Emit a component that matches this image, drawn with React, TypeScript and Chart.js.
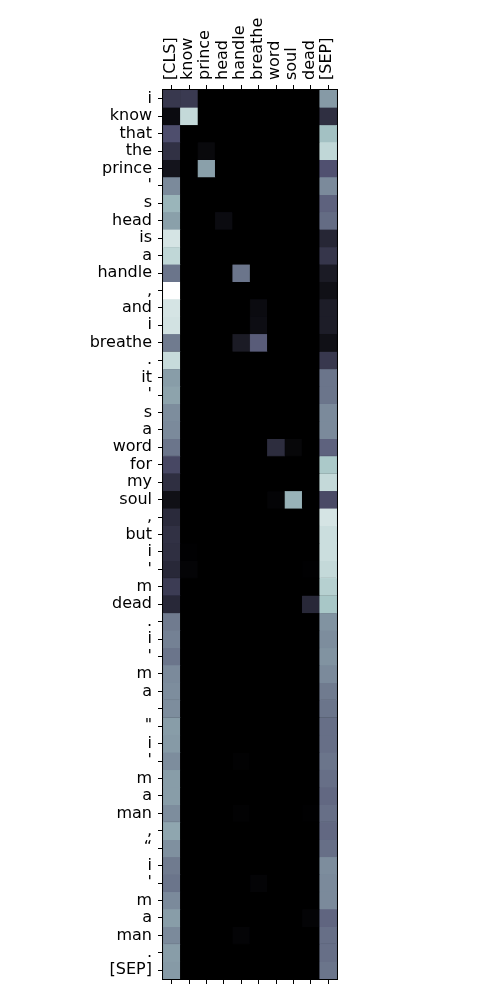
import React, { useEffect, useRef } from "react";
import { Chart, registerables } from "chart.js";

Chart.register(...registerables);

const columns = ["[CLS]", "know", "prince", "head", "handle", "breathe", "word", "soul", "dead", "[SEP]"];

const rows = [
  "i", "know", "that", "the", "prince", "'", "s", "head", "is", "a",
  "handle", ",", "and", "i", "breathe", ".", "it", "'", "s", "a",
  "word", "for", "my", "soul", ",", "but", "i", "'", "m", "dead",
  ".", "i", "'", "m", "a", "", "\"", "i", "'", "m",
  "a", "man", ",", "“", "i", "'", "m", "a", "man", ".",
  "[SEP]",
];

// attention weights per column (one value per row)
const colCLS = [
  0.25, 0.05, 0.35, 0.22, 0.09, 0.55, 0.69, 0.62, 0.88, 0.82,
  0.48, 1.0, 0.88, 0.87, 0.5, 0.84, 0.61, 0.63, 0.56, 0.55,
  0.48, 0.32, 0.21, 0.07, 0.19, 0.22, 0.21, 0.18, 0.27, 0.18,
  0.5, 0.52, 0.48, 0.55, 0.56, 0.56, 0.61, 0.6, 0.56, 0.61,
  0.61, 0.56, 0.64, 0.57, 0.5, 0.48, 0.55, 0.61, 0.55, 0.61,
  0.6,
];
const colKnow = [
  0.26, 0.83, 0, 0, 0, 0, 0, 0, 0, 0,
  0, 0, 0, 0, 0, 0, 0, 0, 0, 0,
  0, 0, 0, 0, 0, 0, 0.005, 0.02, 0, 0,
  0, 0, 0, 0, 0, 0, 0, 0, 0, 0,
  0, 0, 0, 0, 0, 0, 0, 0, 0, 0,
  0,
];
const colPrince = [
  0, 0, 0, 0.04, 0.62, 0, 0, 0, 0, 0,
  0, 0, 0, 0, 0, 0, 0, 0, 0, 0,
  0, 0, 0, 0, 0, 0, 0, 0, 0, 0,
  0, 0, 0, 0, 0, 0, 0, 0, 0, 0,
  0, 0, 0, 0, 0, 0, 0, 0, 0, 0,
  0,
];
const colHead = [
  0, 0, 0, 0, 0, 0, 0, 0.05, 0, 0,
  0, 0, 0, 0, 0, 0, 0, 0, 0, 0,
  0, 0, 0, 0, 0, 0, 0, 0, 0, 0,
  0, 0, 0, 0, 0, 0, 0, 0, 0, 0,
  0, 0, 0, 0, 0, 0, 0, 0, 0, 0,
  0,
];
const colHandle = [
  0, 0, 0, 0, 0, 0, 0, 0, 0, 0,
  0.48, 0, 0, 0, 0.12, 0, 0, 0, 0, 0,
  0, 0, 0, 0, 0, 0, 0, 0, 0, 0,
  0, 0, 0, 0, 0, 0, 0, 0, 0.01, 0,
  0, 0.01, 0, 0, 0, 0, 0, 0, 0.02, 0,
  0,
];
const colBreathe = [
  0, 0, 0, 0, 0, 0, 0, 0, 0, 0,
  0, 0, 0.05, 0.06, 0.4, 0, 0, 0, 0, 0,
  0, 0, 0, 0, 0, 0, 0, 0, 0, 0,
  0, 0, 0, 0, 0, 0, 0, 0, 0, 0,
  0, 0, 0, 0, 0, 0.02, 0, 0, 0, 0,
  0,
];
const colWord = [
  0, 0, 0, 0, 0, 0, 0, 0, 0, 0,
  0, 0, 0, 0, 0, 0, 0, 0, 0, 0,
  0.2, 0, 0, 0.02, 0, 0, 0, 0, 0, 0,
  0, 0, 0, 0, 0, 0, 0, 0, 0, 0,
  0, 0, 0, 0, 0, 0, 0, 0, 0, 0,
  0,
];
const colSoul = [
  0, 0, 0, 0, 0, 0, 0, 0, 0, 0,
  0, 0, 0, 0, 0, 0, 0, 0, 0, 0,
  0.03, 0, 0, 0.68, 0, 0, 0, 0, 0, 0,
  0, 0, 0, 0, 0, 0, 0, 0, 0, 0,
  0, 0, 0, 0, 0, 0, 0, 0, 0, 0,
  0,
];
const colDead = [
  0, 0, 0, 0, 0, 0, 0, 0, 0, 0,
  0, 0, 0, 0, 0, 0, 0, 0, 0, 0,
  0, 0, 0, 0, 0, 0, 0, 0.005, 0, 0.18,
  0, 0, 0, 0, 0, 0, 0, 0, 0, 0,
  0, 0.005, 0, 0, 0, 0, 0, 0.02, 0, 0,
  0,
];
const colSEP = [
  0.6, 0.21, 0.73, 0.82, 0.36, 0.55, 0.42, 0.45, 0.17, 0.24,
  0.12, 0.07, 0.13, 0.13, 0.07, 0.25, 0.48, 0.48, 0.55, 0.55,
  0.42, 0.76, 0.83, 0.33, 0.88, 0.85, 0.85, 0.83, 0.79, 0.75,
  0.58, 0.56, 0.58, 0.55, 0.5, 0.48, 0.46, 0.46, 0.48, 0.46,
  0.44, 0.46, 0.44, 0.46, 0.56, 0.55, 0.55, 0.43, 0.46, 0.46,
  0.48,
];

const matrixColumns = [colCLS, colKnow, colPrince, colHead, colHandle, colBreathe, colWord, colSoul, colDead, colSEP];

function interp(pts: number[][], v: number) {
  for (let i = 1; i < pts.length; i++) {
    if (v <= pts[i][0]) {
      const [x0, y0] = pts[i - 1];
      const [x1, y1] = pts[i];
      return y0 + ((v - x0) / (x1 - x0)) * (y1 - y0);
    }
  }
  return pts[pts.length - 1][1];
}

function bone(v: number) {
  const t = Math.max(0, Math.min(1, v));
  const r = interp([[0, 0], [0.746032, 0.652778], [1, 1]], t);
  const g = interp([[0, 0], [0.365079, 0.319444], [0.746032, 0.777778], [1, 1]], t);
  const b = interp([[0, 0], [0.365079, 0.444444], [1, 1]], t);
  return `rgb(${Math.round(r * 255)},${Math.round(g * 255)},${Math.round(b * 255)})`;
}

const FONT = { family: "DejaVu Sans", size: 16 };

export default function App() {
  const ref = useRef<HTMLCanvasElement | null>(null);

  useEffect(() => {
    document.body.style.margin = "0";
    if (!ref.current) return;

    const datasets = rows.map((_, k) => {
      const colors = columns.map((_, j) => bone(matrixColumns[j][k]));
      return {
        label: rows[k],
        data: columns.map(() => [k, k + 1]),
        backgroundColor: colors,
        borderColor: colors,
        borderWidth: 0.6,
        borderSkipped: false,
        barPercentage: 1,
        categoryPercentage: 1,
        xAxisID: "x",
        yAxisID: "y",
      };
    });

    const framePlugin = {
      id: "frame",
      beforeDatasetsDraw(chart: any) {
        const { ctx, chartArea } = chart;
        ctx.save();
        ctx.fillStyle = "#000";
        ctx.fillRect(chartArea.left, chartArea.top, chartArea.right - chartArea.left, chartArea.bottom - chartArea.top);
        ctx.restore();
      },
      afterDraw(chart: any) {
        const { ctx, chartArea } = chart;
        ctx.save();
        ctx.strokeStyle = "#000";
        ctx.lineWidth = 1;
        ctx.strokeRect(
          Math.round(chartArea.left) - 0.5,
          Math.round(chartArea.top) - 0.5,
          Math.round(chartArea.right - chartArea.left) + 1,
          Math.round(chartArea.bottom - chartArea.top) + 1
        );
        ctx.restore();
      },
    };

    const chart = new Chart(ref.current, {
      type: "bar",
      data: { labels: columns, datasets: datasets as any },
      plugins: [framePlugin],
      options: {
        responsive: false,
        animation: false,
        layout: { padding: { left: 0, right: 163, top: 0, bottom: 0 } },
        plugins: { legend: { display: false }, tooltip: { enabled: false } },
        scales: {
          x: {
            type: "category",
            position: "top",
            stacked: true,
            offset: true,
            grid: { drawOnChartArea: false, drawTicks: true, tickLength: 5, color: "#000", offset: false, lineWidth: 1 },
            border: { display: true, color: "#000" },
            ticks: { color: "#000", font: FONT, maxRotation: 90, minRotation: 90, padding: 5, autoSkip: false, labelOffset: 18 },
            afterFit: (s: any) => { s.height = 90; },
          },
          x2: {
            type: "category",
            position: "bottom",
            labels: columns,
            offset: true,
            grid: { drawOnChartArea: false, drawTicks: true, tickLength: 5, color: "#000", offset: false, lineWidth: 1 },
            border: { display: true, color: "#000" },
            ticks: { color: "#000", font: FONT, callback: () => "", autoSkip: false },
            afterFit: (s: any) => { s.height = 21; },
          },
          y: {
            type: "linear",
            position: "left",
            reverse: true,
            min: 0,
            max: rows.length,
            stacked: false,
            grid: { drawOnChartArea: false, drawTicks: true, tickLength: 5, color: "#000", lineWidth: 1 },
            border: { display: true, color: "#000" },
            afterBuildTicks: (s: any) => {
              s.ticks = rows.map((_, i) => ({ value: i + 0.5 }));
            },
            ticks: {
              color: "#000",
              font: FONT,
              padding: 6,
              autoSkip: false,
              callback: (v: any) => rows[Math.floor(Number(v))],
            },
            afterFit: (s: any) => { s.width = 163; },
          },
        },
      } as any,
    });

    return () => chart.destroy();
  }, []);

  return <canvas ref={ref} width={500} height={1000} style={{ display: "block", width: 500, height: 1000 }} />;
}
